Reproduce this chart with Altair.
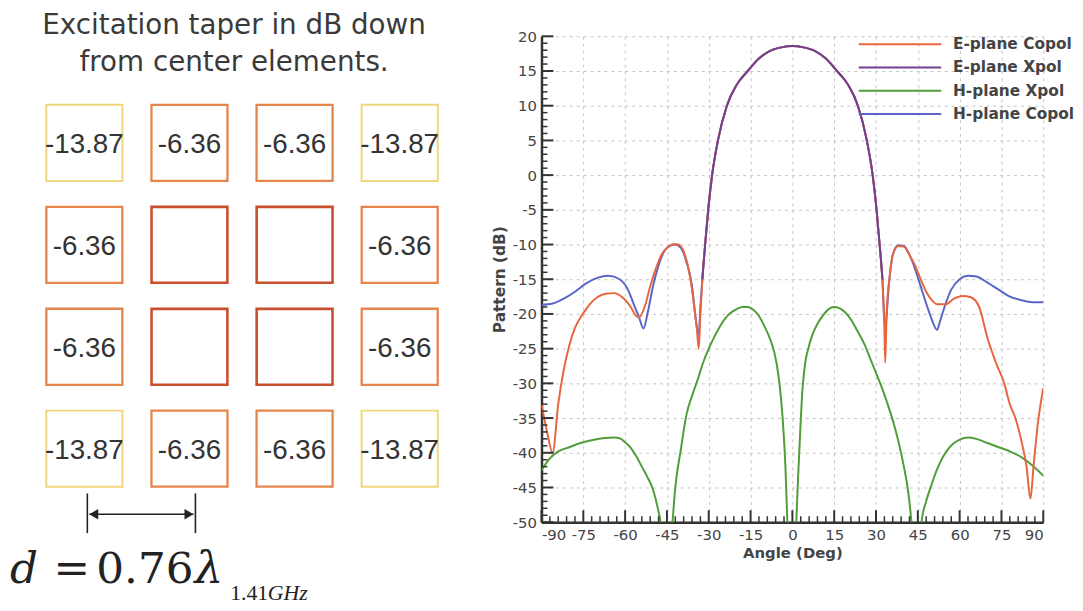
import altair as alt
import pandas as pd

# ---------------- Left panel data ----------------
title_lines = ["Excitation taper in dB down", "from center elements."]
cell_labels = ["-13.87", "-6.36", "-6.36", "-13.87",
               "-6.36", "", "", "-6.36",
               "-6.36", "", "", "-6.36",
               "-13.87", "-6.36", "-6.36", "-13.87"]
cell_tiers = ["corner", "edge", "edge", "corner",
              "edge", "center", "center", "edge",
              "edge", "center", "center", "edge",
              "corner", "edge", "edge", "corner"]
tier_names = ["corner", "edge", "center"]
tier_colors = ["#f1d67e", "#e4864c", "#c9502f"]
tier_widths = [2.0, 2.6, 3.6]
tier_sizes = [5900, 5850, 5750]

# ---------------- Right panel data ----------------
ecop_angle = [-90, -88, -86, -84, -82, -80, -78, -76, -74, -72, -70, -67, -64, -61, -58, -56, -55,
              -53, -51, -49, -47, -45, -43, -41, -39, -37, -35.5, -34.3, -33.6, -33, -32.3, -31.3,
              -30.2, -28.8, -26.7, -23.5, -20, -16, -12, -8, -4, 0, 4, 8, 12, 16, 20, 23.5, 26.7,
              28.8, 30.2, 31.3, 32.3, 33, 33.3, 33.8, 34.8, 36, 38, 40, 42, 44, 46, 48, 50, 52, 55,
              58, 61, 64, 67, 70, 73, 76, 78, 80, 82, 84, 85.4, 86.5, 88, 90]
ecop_db = [-33, -37, -40, -33, -28, -24.5, -22, -20.5, -19.3, -18.3, -17.6, -17.1, -17.0, -17.6,
           -19, -20.3, -20.5, -19, -16, -13.5, -11.5, -10.5, -10, -10, -11, -14, -18, -22, -25,
           -20, -15, -10, -5, 0, 5, 10, 13, 15, 16.8, 17.9, 18.4, 18.6, 18.4, 17.9, 16.8, 15, 13,
           10, 5, 0, -5, -10, -15, -22, -27, -20, -15, -11.5, -10.2, -10.3, -11.5, -13, -15, -16.8,
           -18, -18.6, -18.6, -17.8, -17.4, -17.6, -19, -23.5, -27, -30, -33, -35, -38, -42, -46.6,
           -42, -36, -30.7]

expol_angle = [-32.3, -31.3, -30.2, -28.8, -26.7, -23.5, -20, -16, -12, -8, -4, 0, 4, 8, 12, 16,
               20, 23.5, 26.7, 28.8, 30.2, 31.3, 32.3]
expol_db = [-15, -10, -5, 0, 5, 10, 13, 15, 16.8, 17.9, 18.4, 18.6, 18.4, 17.9, 16.8, 15, 13, 10,
            5, 0, -5, -10, -15]

hxp_angle = [-90, -87, -84, -80, -76, -72, -68, -64, -62, -60, -58, -56, -54, -52, -50, -48,
             -47.3, -45.2, -43, -42, -40, -38, -36, -34, -32, -30, -28, -26, -24, -22, -20, -18,
             -16, -14, -12, -10, -8, -6.5, -5.5, -4.5, -3.5, -2.5, -1.8, -0.5, 0.5, 1.4, 2, 2.8,
             3.6, 4.6, 5.7, 7, 9, 11, 13, 15, 17, 19, 21, 23, 26, 28, 30, 32, 34, 36, 38, 40,
             41.5, 42.7, 44.5, 46.3, 48, 50, 52, 54, 56, 58, 60, 63, 66, 70, 74, 78, 82, 86, 90]
hxp_db = [-42.5, -40.8, -39.8, -39.2, -38.6, -38.2, -37.9, -37.8, -37.9, -38.5, -39.3, -40.5,
          -42, -43.5, -45.3, -48.5, -50, -62, -50, -45, -39.5, -34.5, -31.8, -29.5, -27, -25,
          -23.3, -21.8, -20.6, -19.8, -19.3, -19.0, -19.0, -19.4, -20.3, -21.8, -23.6, -25.5,
          -27.5, -30.5, -35, -42, -50, -64, -64, -50, -44, -37, -31, -27, -25, -23.2, -21.4,
          -20.2, -19.3, -19.0, -19.2, -19.8, -20.8, -22.2, -24.5, -26.5, -28.5, -30.5, -32.8,
          -35.3, -38.3, -42, -45.5, -50, -62, -50, -47, -44.5, -42.3, -40.6, -39.4, -38.6, -38.1,
          -37.8, -38.0, -38.6, -39.2, -39.8, -40.6, -41.8, -43.3]

hcop_angle = [-90, -86, -82, -78, -74, -70, -66, -62, -59, -57, -55, -53.4, -52, -50, -48, -46,
              -44, -42, -40, -38, -36, -34.6, -33.6, -33, -32.3, -31.3, -30.2, -28.8, -26.7,
              -23.5, -20, -16, -12, -8, -4, 0, 4, 8, 12, 16, 20, 23.5, 26.7, 28.8, 30.2, 31.3,
              32.3, 33.2, 34.8, 36, 38, 40, 42, 44, 46, 48, 50, 51.9, 53, 55, 57, 60, 63, 66, 70,
              74, 78, 82, 86, 90]
hcop_db = [-18.7, -18.5, -17.8, -16.8, -15.6, -14.8, -14.5, -15, -16.5, -18.5, -20.5, -22.1, -20,
           -16, -13, -11, -10.2, -10, -10.5, -12.5, -16, -21, -23, -19, -15, -10, -5, 0, 5, 10,
           13, 15, 16.8, 17.9, 18.4, 18.6, 18.4, 17.9, 16.8, 15, 13, 10, 5, 0, -5, -10, -15, -22,
           -15, -11.5, -10.1, -10.2, -11.5, -13.5, -16, -18.5, -20.8, -22.3, -21, -18.5, -16.5,
           -15, -14.5, -14.6, -15.5, -16.5, -17.5, -18, -18.3, -18.3]

series_names = ["E-plane Copol", "E-plane Xpol", "H-plane Xpol", "H-plane Copol"]
series_colors = ["#e8663f", "#73408f", "#4f9e3a", "#5a66c6"]
x_ticks = list(range(-90, 91, 15))
y_ticks = list(range(-50, 21, 5))

# ---------------- layout helpers (page px -> panel units) ----------------
COL0, COLSTEP = 85.0, 106.0
ROW0, ROWSTEP = 144.5, 102.8
LEFT_X0, LEFT_W = 8.0, 460.0
TOP, H = 37.0, 490.0
RIGHT_W = 506.0
SPACING = 78


def lx(p):
    return (p - COL0) / COLSTEP


def ly(p):
    return (p - ROW0) / ROWSTEP


xs_left = alt.Scale(domain=[lx(LEFT_X0), lx(LEFT_X0 + LEFT_W)], nice=False, zero=False)
ys_left = alt.Scale(domain=[ly(TOP), ly(TOP + H)], nice=False, zero=False, reverse=True)

cells = pd.DataFrame({
    "col": [i % 4 for i in range(16)],
    "row": [i // 4 for i in range(16)],
    "label": cell_labels,
    "tier": cell_tiers,
})

squares = alt.Chart(cells).mark_point(shape="square", filled=False, opacity=1).encode(
    x=alt.X("col:Q", scale=xs_left, axis=None),
    y=alt.Y("row:Q", scale=ys_left, axis=None),
    color=alt.Color("tier:N", scale=alt.Scale(domain=tier_names, range=tier_colors), legend=None),
    size=alt.Size("tier:N", scale=alt.Scale(domain=tier_names, range=tier_sizes), legend=None),
    strokeWidth=alt.StrokeWidth("tier:N", scale=alt.Scale(domain=tier_names, range=tier_widths),
                                legend=None),
)
labels = alt.Chart(cells).mark_text(font="Liberation Sans", fontSize=28, color="#333333",
                                    baseline="alphabetic", dy=10).encode(
    x=alt.X("col:Q", scale=xs_left, axis=None),
    y=alt.Y("row:Q", scale=ys_left, axis=None),
    text="label:N",
)

title_df = pd.DataFrame({"text": title_lines, "x": [lx(236), lx(236)], "y": [ly(35), ly(72)]})
title_marks = alt.Chart(title_df).mark_text(font="DejaVu Sans", fontSize=28, color="#3a3a3a",
                                            baseline="alphabetic", align="center").encode(
    x=alt.X("x:Q", scale=xs_left, axis=None),
    y=alt.Y("y:Q", scale=ys_left, axis=None),
    text="text:N",
)

# spacing arrow between column 0 and column 1 centres
arrow_v = pd.DataFrame({"x": [lx(88), lx(197)], "y": [ly(498), ly(498)], "y2": [ly(538), ly(538)]})
arrow_vr = alt.Chart(arrow_v).mark_rule(color="#222222", strokeWidth=1.6).encode(
    x=alt.X("x:Q", scale=xs_left, axis=None),
    y=alt.Y("y:Q", scale=ys_left, axis=None),
    y2="y2:Q",
)
arrow_h = pd.DataFrame({"x": [lx(90)], "x2": [lx(195)], "y": [ly(519)]})
arrow_hr = alt.Chart(arrow_h).mark_rule(color="#222222", strokeWidth=1.6).encode(
    x=alt.X("x:Q", scale=xs_left, axis=None),
    x2="x2:Q",
    y=alt.Y("y:Q", scale=ys_left, axis=None),
)
heads = pd.DataFrame({"x": [lx(94.5), lx(190.5)], "y": [ly(519), ly(519)],
                      "shape": ["triangle-left", "triangle-right"]})
arrow_heads = alt.Chart(heads).mark_point(filled=True, opacity=1, color="#222222", size=110).encode(
    x=alt.X("x:Q", scale=xs_left, axis=None),
    y=alt.Y("y:Q", scale=ys_left, axis=None),
    shape=alt.Shape("shape:N", scale=None, legend=None),
)

formula_parts = [
    ("d", 10, 588, 44, "italic", "DejaVu Serif"),
    ("=", 54, 588, 44, "normal", "DejaVu Serif"),
    ("0.76", 97, 588, 44, "normal", "DejaVu Serif"),
    ("\u03bb", 196, 588, 46, "italic", "DejaVu Serif"),
    ("1.41", 232, 605, 22, "normal", "Liberation Serif"),
    ("GHz", 270, 605, 22, "italic", "Liberation Serif"),
]
formula_layers = []
for txt, px, py, fs, style, fnt in formula_parts:
    fdf = pd.DataFrame({"t": [txt], "x": [lx(px)], "y": [ly(py)]})
    formula_layers.append(
        alt.Chart(fdf).mark_text(font=fnt, fontSize=fs, fontStyle=style,
                                 color="#222222", align="left", baseline="alphabetic").encode(
            x=alt.X("x:Q", scale=xs_left, axis=None),
            y=alt.Y("y:Q", scale=ys_left, axis=None),
            text="t:N",
        )
    )

left = alt.layer(squares, labels, title_marks, arrow_vr, arrow_hr, arrow_heads,
                 *formula_layers).properties(width=LEFT_W, height=H)

# ---------------- Right panel ----------------
xs = alt.Scale(domain=[-90, 90], nice=False, zero=False)
ys = alt.Scale(domain=[-50, 20], nice=False, zero=False)
x_axis = alt.Axis(values=x_ticks, ticks=False, domainWidth=2.5, domainColor="#333333",
                  labelFont="DejaVu Sans", labelFontSize=15, labelColor="#444444",
                  labelPadding=5, labelExpr="'' + datum.value", labelOverlap=False,
                  grid=True, gridColor="#c4c4c4", gridDash=[3, 4], gridWidth=1,
                  titleFont="DejaVu Sans", titleFontSize=15, titleFontWeight="bold",
                  titleColor="#444444", titlePadding=4)
y_axis = alt.Axis(values=y_ticks, ticks=False, domainWidth=2.5, domainColor="#333333",
                  labelFont="DejaVu Sans", labelFontSize=15, labelColor="#444444",
                  labelPadding=5, labelExpr="'' + datum.value", labelOverlap=False,
                  grid=True, gridColor="#c4c4c4", gridDash=[3, 4], gridWidth=1,
                  titleFont="DejaVu Sans", titleFontSize=15.5, titleFontWeight="bold",
                  titleColor="#444444", titlePadding=5)
XT = "Angle (Deg)"
YT = "Pattern (dB)"


def enc_x(field):
    return alt.X(field, type="quantitative", scale=xs, axis=x_axis, title=XT)


def enc_y(field):
    return alt.Y(field, type="quantitative", scale=ys, axis=y_axis, title=YT)


series_data = {
    "H-plane Xpol": (hxp_angle, hxp_db),
    "H-plane Copol": (hcop_angle, hcop_db),
    "E-plane Copol": (ecop_angle, ecop_db),
    "E-plane Xpol": (expol_angle, expol_db),
}
color_of = dict(zip(series_names, series_colors))
line_layers = []
for name in ["H-plane Xpol", "H-plane Copol", "E-plane Copol", "E-plane Xpol"]:
    a, d = series_data[name]
    df = pd.DataFrame({"angle": a, "db": d})
    line_layers.append(
        alt.Chart(df).mark_line(color=color_of[name], strokeWidth=2, clip=True,
                                interpolate="monotone").encode(
            x=enc_x("angle"), y=enc_y("db"))
    )

# inward ticks
ymaj = pd.DataFrame({"v": y_ticks})
ymin = pd.DataFrame({"v": [v for v in range(-50, 21) if v % 5 != 0]})
xmaj = pd.DataFrame({"v": x_ticks})
xmin = pd.DataFrame({"v": [v for v in range(-90, 91, 3) if v % 15 != 0]})
tick_layers = [
    alt.Chart(ymaj).mark_rule(color="#333333", strokeWidth=2).encode(
        y=enc_y("v"), x=alt.value(0), x2=alt.value(12)),
    alt.Chart(ymin).mark_rule(color="#333333", strokeWidth=1.5).encode(
        y=enc_y("v"), x=alt.value(0), x2=alt.value(6)),
    alt.Chart(xmaj).mark_rule(color="#333333", strokeWidth=2).encode(
        x=enc_x("v"), y=alt.value(H), y2=alt.value(H - 12)),
    alt.Chart(xmin).mark_rule(color="#333333", strokeWidth=1.5).encode(
        x=enc_x("v"), y=alt.value(H), y2=alt.value(H - 6)),
]

# legend inside plot
leg = pd.DataFrame({
    "name": series_names,
    "color": series_colors,
    "x1": [23.8] * 4,
    "x2": [53.4] * 4,
    "tx": [57.6] * 4,
    "y": [18.86 - 3.35 * i for i in range(4)],
})
leg_lines = alt.Chart(leg).mark_rule(strokeWidth=2).encode(
    x=enc_x("x1"), x2="x2:Q", y=enc_y("y"),
    color=alt.Color("color:N", scale=None, legend=None))
leg_text = alt.Chart(leg).mark_text(align="left", baseline="middle", font="DejaVu Sans",
                                    fontSize=15.5, fontWeight="bold", color="#444444").encode(
    x=enc_x("tx"), y=enc_y("y"), text="name:N")

right = alt.layer(*line_layers, *tick_layers, leg_lines, leg_text).properties(
    width=RIGHT_W, height=H)

chart = alt.hconcat(left, right, spacing=SPACING, bounds="flush").properties(
    padding={"left": 0, "top": 2, "right": 0, "bottom": 0}
).configure(font="DejaVu Sans", view=alt.ViewConfig(stroke=None))

chart.save("out.html", embed_options={"renderer": "svg", "actions": False})
